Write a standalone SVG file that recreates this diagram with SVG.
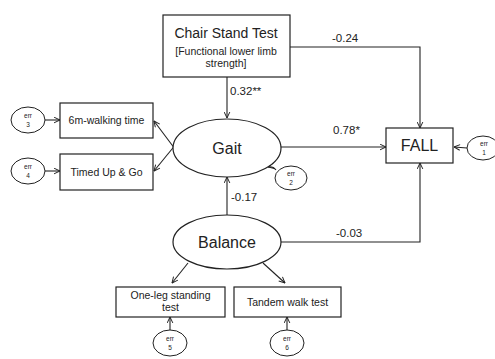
<svg xmlns="http://www.w3.org/2000/svg" width="495" height="359" viewBox="0 0 495 359">
  <style>
    .box { fill: #fff; stroke: #222; stroke-width: 1.2; }
    .lat { fill: #fff; stroke: #222; stroke-width: 1.2; }
    .err { fill: #fff; stroke: #222; stroke-width: 1; }
    .edge { fill: none; stroke: #222; stroke-width: 1.1; }
    text { font-family: "Liberation Sans", Arial, sans-serif; fill: #222; text-anchor: middle; }
    .big { font-size: 16px; }
    .title { font-size: 14px; }
    .small { font-size: 10.5px; }
    .lbl { font-size: 11.5px; text-anchor: start; }
    .tiny { font-size: 6.5px; }
  </style>
  <defs>
    <marker id="arr" viewBox="0 0 10 10" refX="9.5" refY="5" markerWidth="7" markerHeight="7" orient="auto" markerUnits="userSpaceOnUse">
      <path d="M1,1 L9.5,5 L1,9" fill="none" stroke="#222" stroke-width="1.4"/>
    </marker>
  </defs>
  <rect width="495" height="359" fill="#fff"/>

  <!-- connectors -->
  <g id="connectors">
    <path class="edge" d="M290,47 H420 V128" marker-end="url(#arr)"/>
    <path class="edge" d="M227,77 V118" marker-end="url(#arr)"/>
    <path class="edge" d="M281,147 H386" marker-end="url(#arr)"/>
    <path class="edge" d="M280,242 H420 V163" marker-end="url(#arr)"/>
    <path class="edge" d="M227,215 V177" marker-end="url(#arr)"/>
    <path class="edge" d="M190,169 L154,121" marker-end="url(#arr)"/>
    <path class="edge" d="M190,127 L154,171" marker-end="url(#arr)"/>
    <path class="edge" d="M188,263 L172,283" marker-end="url(#arr)"/>
    <path class="edge" d="M263,263 L285,283" marker-end="url(#arr)"/>
    <path class="edge" d="M467,148 L454,147" marker-end="url(#arr)"/>
    <path class="edge" d="M276,170 Q273,166 268,167" marker-end="url(#arr)"/>
    <path class="edge" d="M45,120 L60,120" marker-end="url(#arr)"/>
    <path class="edge" d="M45,171 L60,171" marker-end="url(#arr)"/>
    <path class="edge" d="M170,330 V317" marker-end="url(#arr)"/>
    <path class="edge" d="M287,330 V317" marker-end="url(#arr)"/>
    <text class="lbl" x="332" y="42">-0.24</text>
    <text class="lbl" x="230" y="95">0.32**</text>
    <text class="lbl" x="333" y="134">0.78*</text>
    <text class="lbl" x="231" y="201">-0.17</text>
    <text class="lbl" x="336" y="237">-0.03</text>
  </g>

  <g id="chair">
    <rect class="box" x="163" y="15" width="127" height="62"/>
    <text class="title" x="226" y="38">Chair Stand Test</text>
    <text class="small" x="226" y="55">[Functional lower limb</text>
    <text class="small" x="226" y="67">strength]</text>
  </g>

  <g id="gait">
    <ellipse class="lat" cx="227" cy="148" rx="54" ry="29"/>
    <text class="big" x="227" y="154">Gait</text>
  </g>

  <g id="balance">
    <ellipse class="lat" cx="227" cy="242" rx="54" ry="27"/>
    <text class="big" x="227" y="248">Balance</text>
  </g>

  <g id="fall">
    <rect class="box" x="386" y="128" width="67" height="35"/>
    <text class="big" x="419.5" y="151">FALL</text>
  </g>

  <g id="walk6m">
    <rect class="box" x="60" y="103" width="93" height="35"/>
    <text class="small" x="106.5" y="124">6m-walking time</text>
  </g>

  <g id="tug">
    <rect class="box" x="60" y="154" width="93" height="36"/>
    <text class="small" x="106.5" y="176">Timed Up &amp; Go</text>
  </g>

  <g id="oneleg">
    <rect class="box" x="116" y="287" width="109" height="30"/>
    <text class="small" x="170.5" y="299">One-leg standing</text>
    <text class="small" x="170.5" y="311">test</text>
  </g>

  <g id="tandem">
    <rect class="box" x="234" y="287" width="107" height="30"/>
    <text class="small" x="287.5" y="306">Tandem walk test</text>
  </g>

  <g id="err1">
    <ellipse class="err" cx="483" cy="148" rx="16" ry="12"/>
    <text class="tiny" x="484" y="146">err</text>
    <text class="tiny" x="484" y="155">1</text>
  </g>
  <g id="err2">
    <ellipse class="err" cx="291" cy="178" rx="16" ry="12"/>
    <text class="tiny" x="291" y="176">err</text>
    <text class="tiny" x="291" y="185">2</text>
  </g>
  <g id="err3">
    <ellipse class="err" cx="28" cy="120" rx="17" ry="13"/>
    <text class="tiny" x="28" y="118">err</text>
    <text class="tiny" x="28" y="127">3</text>
  </g>
  <g id="err4">
    <ellipse class="err" cx="28" cy="171" rx="17" ry="13"/>
    <text class="tiny" x="28" y="169">err</text>
    <text class="tiny" x="28" y="178">4</text>
  </g>
  <g id="err5">
    <ellipse class="err" cx="170" cy="343" rx="17" ry="13"/>
    <text class="tiny" x="170" y="341">err</text>
    <text class="tiny" x="170" y="350">5</text>
  </g>
  <g id="err6">
    <ellipse class="err" cx="287" cy="343" rx="17" ry="13"/>
    <text class="tiny" x="287" y="341">err</text>
    <text class="tiny" x="287" y="350">6</text>
  </g>
</svg>
